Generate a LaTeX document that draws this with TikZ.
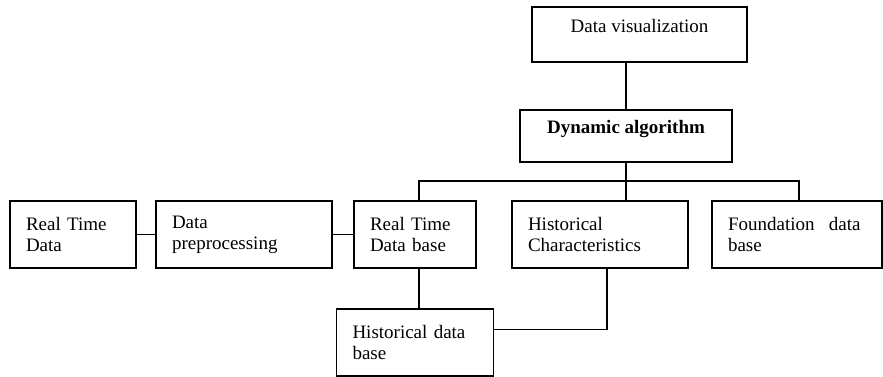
\documentclass[tikz,border=0pt]{standalone}
\usepackage{fontspec}
\setmainfont{Liberation Serif}
\usetikzlibrary{positioning, calc}
\tikzset{%
	box/.style={draw, rectangle, line width=1.5pt, minimum height=67pt,%
		inner xsep=16pt, inner ysep=0pt, align=left, font=\fontsize{19}{21}\selectfont},
	topbox/.style={draw, rectangle, line width=1.5pt, inner sep=0pt, align=center,%
		font=\fontsize{19}{21}\selectfont},
	link/.style={line width=1.5pt}
}

\begin{document}
\begin{tikzpicture}[x=1pt, y=-1pt]
	\useasboundingbox (0,0) rectangle (883,377);

	\node[topbox, minimum width=215pt, minimum height=55pt, text height=14pt, text depth=17pt] (vis) at (639.5,34.5) {Data visualization};
	\node[topbox, minimum width=212pt, minimum height=52pt, text height=14pt, text depth=20pt, font=\fontsize{19}{21}\selectfont\bfseries] (algo) at (626,136) {Dynamic algorithm};

	\node[box, text width=94pt] (rtdata) at (73,234.5) {Real Time\\Data};
	\node[box, text width=144pt, right=18.5pt of rtdata] (prep) {Data\\preprocessing};
	\node[box, text width=90pt, right=20.5pt of prep] (rtbase) {Real Time\\Data base};
	\node[box, text width=144pt, right=34.5pt of rtbase] (histchar) {Historical\\Characteristics};
	\node[box, text width=138pt, right=22.5pt of histchar] (foundbase) {Foundation\hspace{0.75em}data\\base};
	\node[box, text width=125pt, below=39.5pt of rtbase] (histbase) {Historical data\\base};

	\coordinate (bus) at ($(algo.south)+(0,18)$);

	\draw[link] (vis.south -| algo.north) -- (algo.north);
	\draw[link] (algo.south) -- (algo.south |- histchar.north);
	\draw[link] ([xshift=4pt]rtbase.north) |- (bus) -| ([xshift=2pt]foundbase.north);
	\draw[link] (rtdata) -- (prep);
	\draw[link] (prep) -- (rtbase);
	\draw[link] ([xshift=4pt]rtbase.south) -- ([xshift=4pt]histbase.north);
	\draw[link] ([xshift=7pt]histchar.south) |- ([yshift=13pt]histbase.east);
\end{tikzpicture}
\end{document}
